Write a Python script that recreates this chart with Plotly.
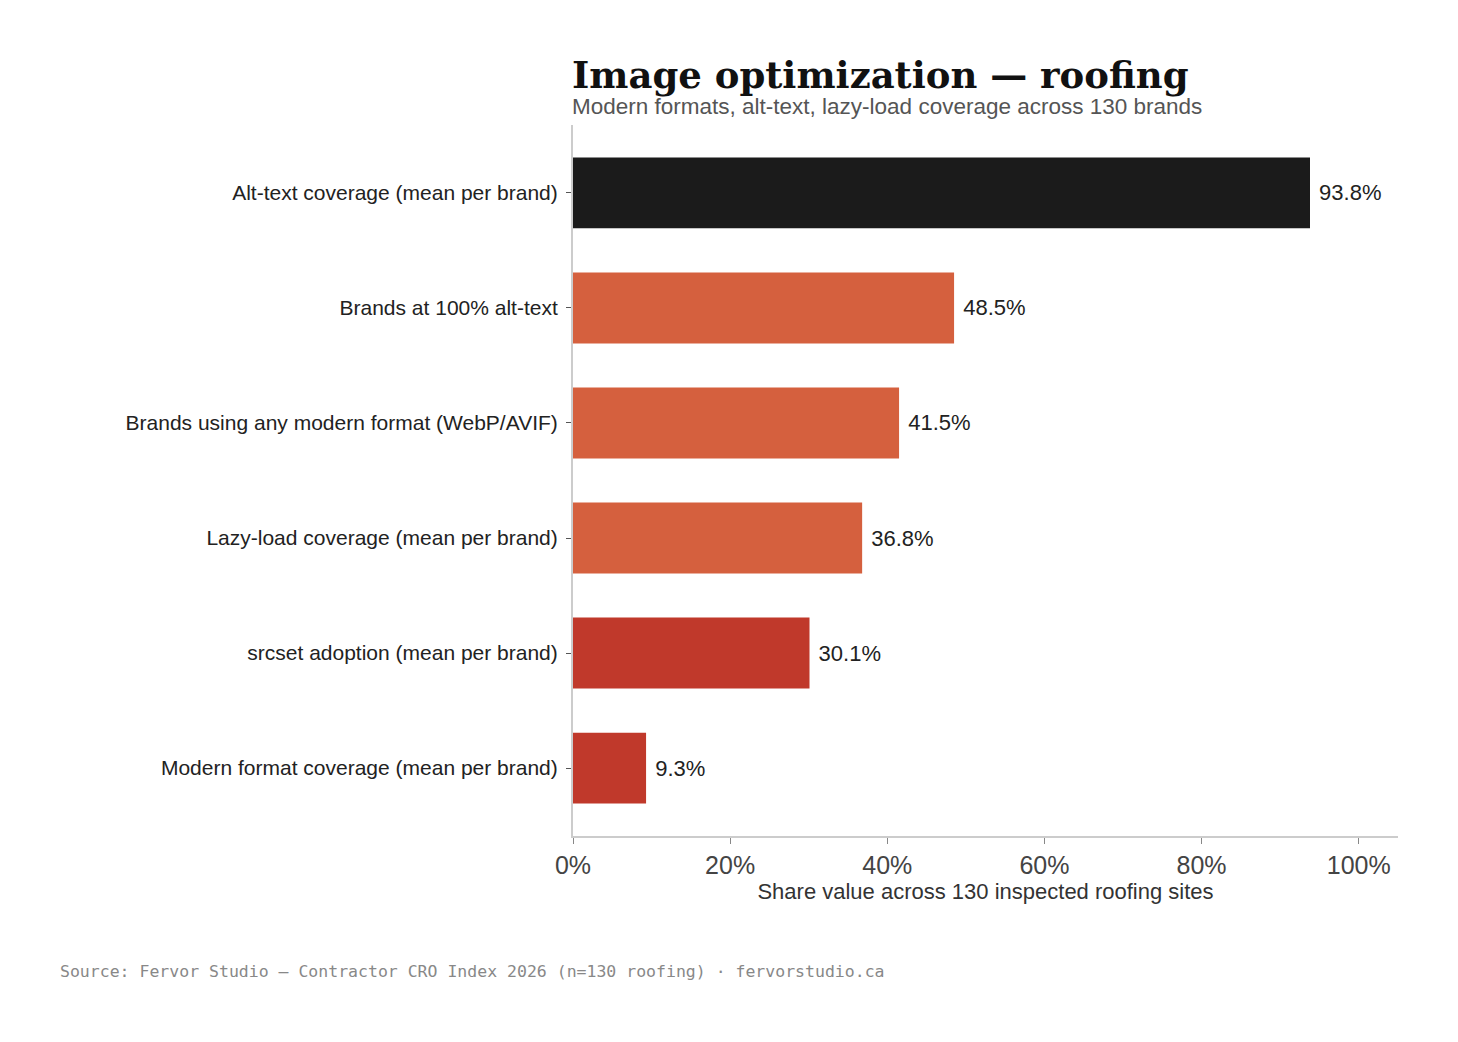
import plotly.graph_objects as go

categories = [
    "Alt-text coverage (mean per brand)",
    "Brands at 100% alt-text",
    "Brands using any modern format (WebP/AVIF)",
    "Lazy-load coverage (mean per brand)",
    "srcset adoption (mean per brand)",
    "Modern format coverage (mean per brand)",
]
values = [93.8, 48.5, 41.5, 36.8, 30.1, 9.3]
bar_colors = ["#1b1b1b", "#d5603e", "#d5603e", "#d5603e", "#c0392b", "#c0392b"]
x_ticks = [0, 20, 40, 60, 80, 100]

SANS = "Liberation Sans, Arial, sans-serif"

fig = go.Figure(
    go.Bar(
        x=values,
        y=categories,
        orientation="h",
        marker=dict(color=bar_colors, line=dict(width=0)),
        text=[f" {v:.1f}%" for v in values],
        textposition="outside",
        textfont=dict(family=SANS, size=22, color="#222"),
        cliponaxis=False,
        width=0.617,
    )
)

fig.update_yaxes(
    range=[5.59, -0.59],
    showline=True,
    linecolor="#cccccc",
    linewidth=2,
    ticks="outside",
    ticklen=5,
    tickcolor="#555",
    tickfont=dict(family=SANS, size=21, color="#222"),
    ticklabelstandoff=4,
    showgrid=False,
)

fig.update_xaxes(
    range=[0, 105],
    tickvals=x_ticks,
    ticktext=[f"{t}%" for t in x_ticks],
    showline=True,
    linecolor="#cccccc",
    linewidth=2,
    ticks="outside",
    ticklen=6,
    tickcolor="#888",
    tickfont=dict(family=SANS, size=25, color="#444"),
    showgrid=False,
    zeroline=False,
    title=dict(
        text="Share value across 130 inspected roofing sites",
        font=dict(family=SANS, size=22, color="#333"),
        standoff=6,
    ),
)

fig.add_annotation(
    text="<b>Image optimization — roofing</b>",
    xref="paper", yref="paper", x=0, y=1.068,
    xanchor="left", yanchor="middle", showarrow=False,
    xshift=-3, yshift=2,
    font=dict(family="DejaVu Serif, serif", size=37, color="#111"),
)
fig.add_annotation(
    text="Modern formats, alt-text, lazy-load coverage across 130 brands",
    xref="paper", yref="paper", x=0, y=1.027,
    xanchor="left", yanchor="middle", showarrow=False,
    xshift=-3, yshift=-1,
    font=dict(family=SANS, size=22.5, color="#555"),
)
fig.add_annotation(
    text="Source: Fervor Studio — Contractor CRO Index 2026 (n=130 roofing) · fervorstudio.ca",
    xref="paper", yref="paper", x=-0.622, y=-0.191,
    xanchor="left", yanchor="middle", showarrow=False,
    xshift=-2,
    font=dict(family="DejaVu Sans Mono, monospace", size=16.5, color="#888"),
)

fig.update_layout(
    width=1458,
    height=1042,
    margin=dict(l=565, r=68, t=117, b=214),
    paper_bgcolor="white",
    plot_bgcolor="white",
    showlegend=False,
)

fig.write_html("out.html")
